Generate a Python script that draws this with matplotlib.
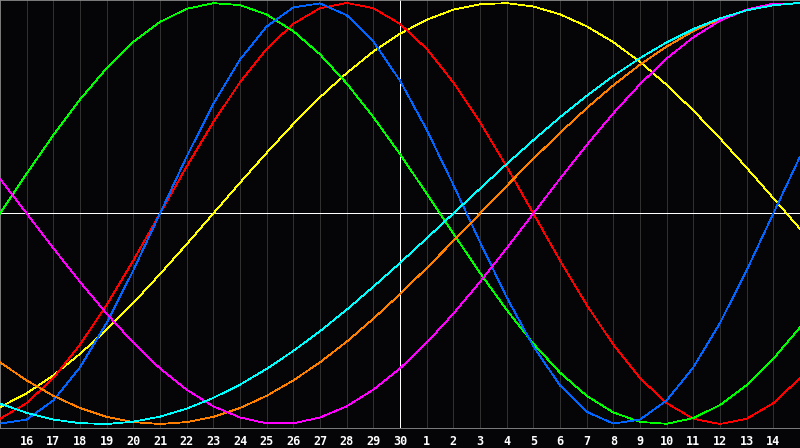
import numpy as np
import matplotlib
matplotlib.use("Agg")
import matplotlib.pyplot as plt

# day positions 0..30 (day 15 of last month .. day 15 of this month)
days = list(range(31))
day_labels = ['16', '17', '18', '19', '20', '21', '22', '23', '24', '25', '26', '27', '28', '29', '30',
              '1', '2', '3', '4', '5', '6', '7', '8', '9', '10', '11', '12', '13', '14']

# curve values, one per day
yellow = [-0.920, -0.854, -0.769, -0.667, -0.552, -0.425, -0.288, -0.146, 0.000, 0.146, 0.288,
          0.425, 0.552, 0.667, 0.769, 0.854, 0.920, 0.968, 0.994, 0.999, 0.983, 0.946,
          0.889, 0.814, 0.720, 0.611, 0.489, 0.357, 0.217, 0.073, -0.073]
red = [-0.975, -0.901, -0.782, -0.623, -0.434, -0.223, 0.000, 0.223, 0.434, 0.623, 0.782,
       0.901, 0.975, 1.000, 0.975, 0.901, 0.782, 0.623, 0.434, 0.223, 0.000, -0.223,
       -0.434, -0.623, -0.782, -0.901, -0.975, -1.000, -0.975, -0.901, -0.782]
green = [0.000, 0.189, 0.372, 0.541, 0.690, 0.815, 0.910, 0.972, 0.999, 0.990, 0.945,
         0.866, 0.756, 0.618, 0.458, 0.282, 0.095, -0.095, -0.282, -0.458, -0.618, -0.756,
         -0.866, -0.945, -0.990, -0.999, -0.972, -0.910, -0.815, -0.690, -0.541]
blue = [-0.998, -0.979, -0.888, -0.731, -0.520, -0.270, 0.000, 0.270, 0.520, 0.731, 0.888,
        0.979, 0.998, 0.942, 0.817, 0.631, 0.398, 0.136, -0.136, -0.398, -0.631, -0.817,
        -0.942, -0.998, -0.979, -0.888, -0.731, -0.520, -0.270, 0.000, 0.270]
orange = [-0.707, -0.793, -0.866, -0.924, -0.966, -0.991, -1.000, -0.991, -0.966, -0.924, -0.866,
          -0.793, -0.707, -0.609, -0.500, -0.383, -0.259, -0.131, 0.000, 0.131, 0.259, 0.383,
          0.500, 0.609, 0.707, 0.793, 0.866, 0.924, 0.966, 0.991, 1.000]
magenta = [0.165, 0.000, -0.165, -0.325, -0.476, -0.614, -0.736, -0.837, -0.916, -0.969, -0.997,
           -0.997, -0.969, -0.916, -0.837, -0.736, -0.614, -0.476, -0.325, -0.165, 0.000, 0.165,
           0.325, 0.476, 0.614, 0.736, 0.837, 0.916, 0.969, 0.997, 0.997]
cyan = [-0.903, -0.947, -0.979, -0.996, -1.000, -0.989, -0.965, -0.927, -0.876, -0.813, -0.738,
        -0.653, -0.559, -0.457, -0.348, -0.235, -0.118, 0.000, 0.118, 0.235, 0.348, 0.457,
        0.559, 0.653, 0.738, 0.813, 0.876, 0.927, 0.965, 0.989, 1.000]

bg = '#050508'
fig = plt.figure(figsize=(8, 4.48), dpi=100, facecolor=bg)
ax = fig.add_axes([0, 20 / 448, 1, 428 / 448])
ax.set_facecolor(bg)

# vertical day grid
for d in days[1:-1]:
    if d != 15:
        ax.axvline(d, color='#303030', lw=0.6, antialiased=False, zorder=1)
ax.axvline(15, color='white', lw=0.6, antialiased=False, zorder=2)
ax.axhline(0, color='white', lw=0.6, antialiased=False, zorder=2)

series = [(yellow, '#ffff00'), (red, '#ff0000'), (green, '#00ff00'), (blue, '#0066ff'),
          (orange, '#ff8000'), (magenta, '#ff00ff'), (cyan, '#00ffff')]
for vals, col in series:
    ax.plot(days, vals, color=col, lw=0.55, antialiased=False, zorder=3)

ax.set_xlim(0, 30)
ax.set_ylim(-1.019, 1.014)
ax.set_yticks([])
ax.set_xticks(days[1:-1])
ax.set_xticklabels(day_labels, color='white', fontsize=8.5, fontweight='bold',
                   family='DejaVu Sans Mono')
ax.tick_params(axis='x', length=0, pad=5)

for s in ['left', 'top', 'bottom']:
    ax.spines[s].set_color('#909090')
    ax.spines[s].set_linewidth(0.6)
ax.spines['right'].set_visible(False)

fig.savefig('out.png', dpi=100, facecolor=bg)
